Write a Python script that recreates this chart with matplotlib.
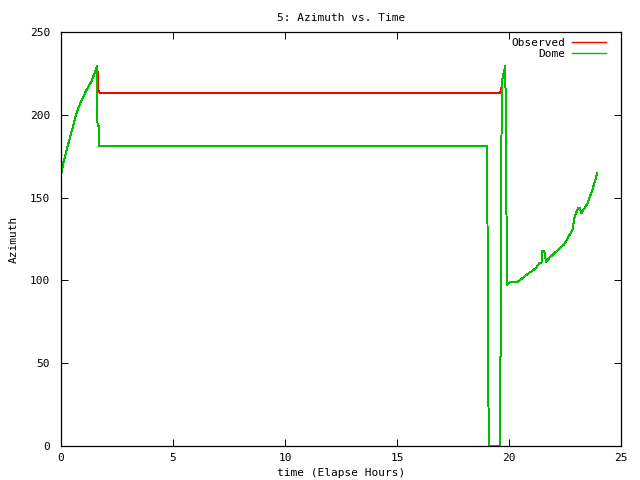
import matplotlib
matplotlib.use("Agg")
import matplotlib.pyplot as plt

title = "5: Azimuth vs. Time"
x_label = "time (Elapse Hours)"
y_label = "Azimuth"
x_ticks = [0, 5, 10, 15, 20, 25]
y_ticks = [0, 50, 100, 150, 200, 250]

obs_time = [0.00, 0.10, 0.33, 0.47, 0.67, 0.74, 0.92, 1.14, 1.37, 1.59, 1.62,
            1.66, 1.68, 1.78, 19.60, 19.64, 19.67, 19.71, 19.75, 19.82, 19.84,
            19.85, 19.88, 19.89, 19.92, 19.93, 19.97, 20.05, 20.37, 20.90, 21.21,
            21.35, 21.45, 21.48, 21.57, 21.66, 21.79, 22.46, 22.83, 22.93, 23.08,
            23.16, 23.23, 23.50, 23.72, 23.94]
obs_az = [163.6, 170.9, 182.7, 189.8, 199.9, 202.9, 208.9, 215.0, 220.4, 228.7, 229.5,
          216.0, 214.0, 213.0, 213.0, 214.5, 216.9, 221.9, 225.0, 228.0, 229.5,
          195.8, 194.0, 129.4, 128.0, 97.2, 98.5, 99.0, 99.0, 104.5, 107.5,
          110.5, 110.5, 118.0, 118.0, 111.0, 113.5, 121.8, 130.4, 138.5, 143.5,
          143.9, 140.5, 146.5, 154.6, 164.7]

dome_time = [0.00, 0.10, 0.33, 0.47, 0.67, 0.74, 0.92, 1.14, 1.37, 1.59, 1.62,
             1.63, 1.70, 1.71, 19.00, 19.01, 19.04, 19.05, 19.08, 19.09, 19.59,
             19.60, 19.63, 19.64, 19.66, 19.67, 19.71, 19.75, 19.82, 19.84,
             19.85, 19.88, 19.89, 19.92, 19.93, 19.97, 20.05, 20.37, 20.90, 21.21,
             21.35, 21.45, 21.48, 21.57, 21.66, 21.79, 22.46, 22.83, 22.93, 23.08,
             23.16, 23.23, 23.50, 23.72, 23.94]
dome_az = [163.6, 170.9, 182.7, 189.8, 199.9, 202.9, 208.9, 215.0, 220.4, 228.7, 229.5,
           193.2, 193.2, 181.2, 181.2, 136.0, 136.0, 46.0, 46.0, 0.0, 0.0,
           54.0, 54.0, 160.6, 160.6, 213.0, 221.9, 225.0, 228.0, 229.5,
           195.8, 194.0, 129.4, 128.0, 97.2, 98.5, 99.0, 99.0, 104.5, 107.5,
           110.5, 110.5, 118.0, 118.0, 111.0, 113.5, 121.8, 130.4, 138.5, 143.5,
           143.9, 140.5, 146.5, 154.6, 164.7]

plt.rcParams['font.family'] = ['DejaVu Sans Mono']
fig = plt.figure(figsize=(6.4, 4.8), dpi=100)
ax = fig.add_axes([61/640, 34/480, 560/640, 414/480])

ax.plot(obs_time, obs_az, color='#ff0000', lw=0.72, label='Observed', antialiased=False)
ax.plot(dome_time, dome_az, color='#00c000', lw=0.72, label='Dome', antialiased=False)

ax.set_xlim(0, 25)
ax.set_ylim(0, 250)
ax.set_xticks(x_ticks)
ax.set_yticks(y_ticks)
ax.tick_params(direction='in', length=5, width=0.72, top=True, right=True,
               labelsize=8)
ax.tick_params(axis='x', pad=5)
ax.tick_params(axis='y', pad=8)
for s in ax.spines.values():
    s.set_linewidth(0.9)
ax.set_title(title, fontsize=8, pad=8)
ax.set_xlabel(x_label, fontsize=8, labelpad=4)
ax.set_ylabel(y_label, fontsize=8, labelpad=8)

leg = ax.legend(loc='upper right', frameon=False, markerfirst=False,
                fontsize=8, handlelength=3.1, handletextpad=0.6,
                labelspacing=0.1, borderaxespad=0.2,
                bbox_to_anchor=(1 - 8/560, 1 + 1/414))
for t in leg.get_texts():
    t.set_ha('right')
leg._legend_box.align = 'right'
for h in leg.get_lines():
    h.set_antialiased(True)
    h.set_linewidth(1.0)

fig.savefig('out.png', dpi=100)
